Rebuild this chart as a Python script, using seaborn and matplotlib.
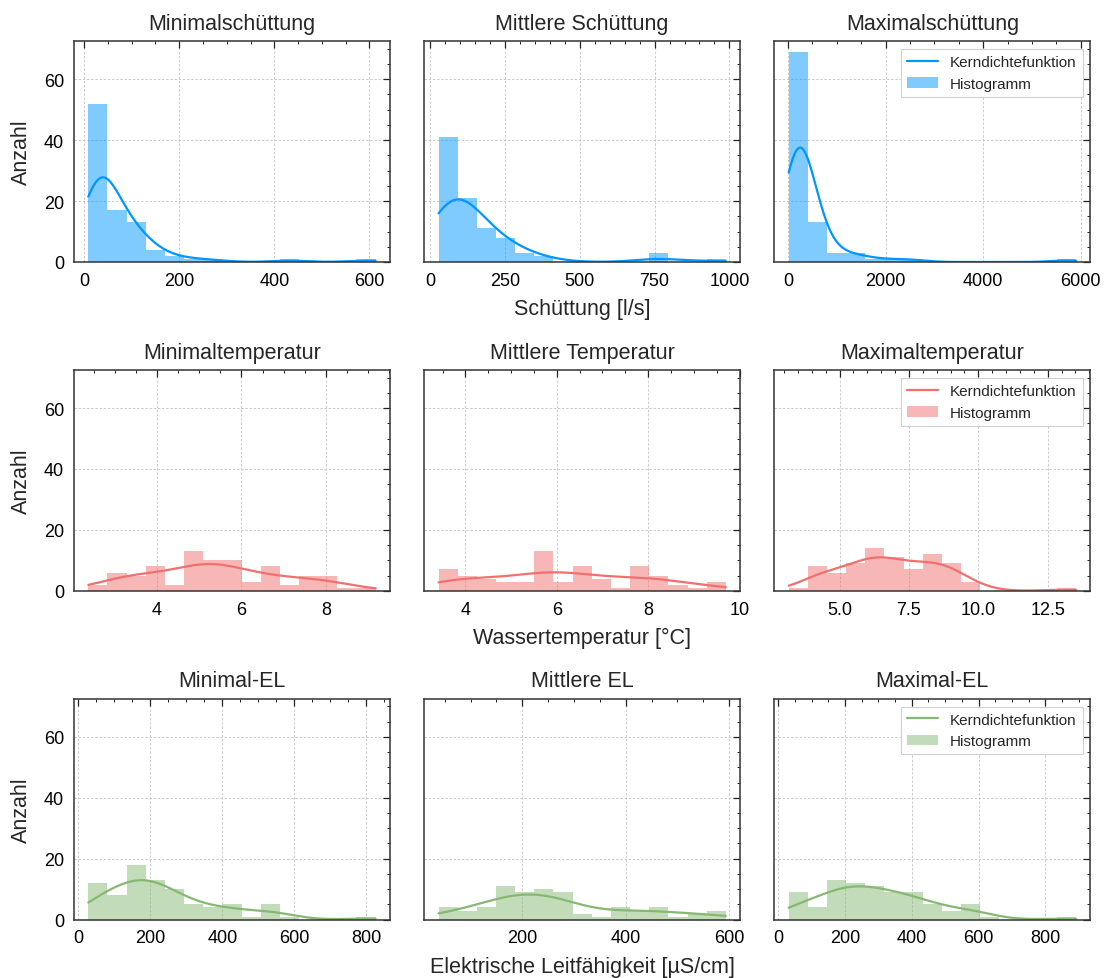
import numpy as np
import pandas as pd
import matplotlib
matplotlib.use("Agg")
import matplotlib.pyplot as plt
from matplotlib.ticker import AutoMinorLocator
from matplotlib.lines import Line2D
from matplotlib.patches import Patch
import seaborn as sns

sns.set_style("white")
plt.rcParams["font.family"] = ["Liberation Sans", "DejaVu Sans"]

# ---------------- data ----------------
titles = [
    ["Minimalschüttung", "Mittlere Schüttung", "Maximalschüttung"],
    ["Minimaltemperatur", "Mittlere Temperatur", "Maximaltemperatur"],
    ["Minimal-EL", "Mittlere EL", "Maximal-EL"],
]
xlabels = ["Schüttung [l/s]", "Wassertemperatur [°C]", "Elektrische Leitfähigkeit [µS/cm]"]
row_colors = ["#0096ff", "#f07070", "#86b874"]
ylabel = "Anzahl"
legend_labels = ["Kerndichtefunktion", "Histogramm"]

# data range (min, max) of each variable and histogram counts (15 bins)
q_min_range = (9.1, 613.0)
q_min_counts = [52, 17, 13, 4, 2, 1, 1, 0, 0, 0, 1, 0, 0, 0, 1]
q_mean_range = (28.0, 988.0)
q_mean_counts = [41, 21, 11, 8, 3, 2, 0, 0, 0, 0, 0, 3, 0, 0, 1]
q_max_range = (13.6, 5904.0)
q_max_counts = [69, 13, 3, 3, 1, 1, 1, 0, 0, 0, 0, 0, 0, 0, 1]

t_min_range = (2.37, 9.18)
t_min_counts = [2, 6, 5, 8, 2, 13, 10, 10, 3, 8, 2, 5, 5, 1, 1]
t_mean_range = (3.41, 9.70)
t_mean_counts = [7, 5, 4, 3, 3, 13, 3, 8, 4, 1, 8, 5, 2, 1, 3]
t_max_range = (3.17, 13.52)
t_max_counts = [1, 8, 6, 9, 14, 11, 7, 12, 9, 3, 0, 0, 0, 0, 1]

el_min_range = (27.3, 826.0)
el_min_counts = [12, 8, 18, 13, 10, 5, 4, 5, 1, 5, 1, 0, 0, 0, 1]
el_mean_range = (38.0, 593.5)
el_mean_counts = [4, 3, 4, 11, 9, 10, 9, 2, 1, 4, 3, 4, 1, 2, 3]
el_max_range = (31.3, 892.0)
el_max_counts = [9, 4, 13, 12, 11, 9, 9, 5, 3, 5, 1, 0, 0, 0, 1]

ranges = [[q_min_range, q_mean_range, q_max_range],
          [t_min_range, t_mean_range, t_max_range],
          [el_min_range, el_mean_range, el_max_range]]
counts = [[q_min_counts, q_mean_counts, q_max_counts],
          [t_min_counts, t_mean_counts, t_max_counts],
          [el_min_counts, el_mean_counts, el_max_counts]]

# KDE smoothing fine-tuning (style) per panel
kde_bw_scale = [[0.88, 1.0, 0.72],
                [1.0, 1.0, 1.0],
                [0.95, 1.0, 1.0]]

# ---------------- figure ----------------
fig, axes = plt.subplots(3, 3, figsize=(11.07, 9.79), dpi=100, sharey=True)
fig.subplots_adjust(left=0.0668, right=0.985, bottom=0.0596, top=0.9568,
                    wspace=0.108, hspace=0.49)

for r in range(3):
    color = row_colors[r]
    for c in range(3):
        ax = axes[r, c]
        lo, hi = ranges[r][c]
        w = np.asarray(counts[r][c], dtype=float)
        nb = len(w)
        edges = np.linspace(lo, hi, nb + 1)
        df = pd.DataFrame({"x": 0.5 * (edges[:-1] + edges[1:]), "w": w})
        # weighted KDE uses the effective sample size; rescale the bandwidth
        # so it corresponds to the true number of observations
        n_eff = w.sum() ** 2 / (w ** 2).sum()
        bw_adj = (n_eff / w.sum()) ** 0.2 * kde_bw_scale[r][c]
        sns.histplot(data=df, x="x", weights="w", bins=nb, binrange=(lo, hi),
                     kde=True, kde_kws=dict(cut=10, clip=(lo, hi), bw_adjust=bw_adj),
                     color=color, alpha=0.5, edgecolor="none", linewidth=0,
                     line_kws=dict(linewidth=1.6), ax=ax)
        ax.set_title(titles[r][c], fontsize=15.5, pad=9)
        ax.set_xlabel(xlabels[r] if c == 1 else "", fontsize=15.5, labelpad=7)
        ax.set_ylabel(ylabel if c == 0 else "", fontsize=15.5, labelpad=9)
        ax.set_axisbelow(True)
        ax.grid(True, which="major", linestyle=(0, (3, 2)), color="#c4c4c4", linewidth=0.6)
        ax.xaxis.set_minor_locator(AutoMinorLocator())
        ax.yaxis.set_minor_locator(AutoMinorLocator())
        ax.tick_params(which="both", direction="in", top=True, right=True,
                       colors="#222222", labelcolor="black")
        ax.tick_params(which="major", length=5, width=0.9, labelsize=13, pad=7)
        ax.tick_params(which="minor", length=2.5, width=0.7)
        for s in ax.spines.values():
            s.set_color("#333333")
            s.set_linewidth(1.1)
        if c == 2:
            handles = [Line2D([0], [0], color=color, linewidth=1.6),
                       Patch(facecolor=color, alpha=0.5, edgecolor="none")]
            leg = ax.legend(handles, legend_labels, loc="upper right", fontsize=11,
                            fancybox=False, framealpha=1, edgecolor="#d0d0d0")
            leg.get_frame().set_linewidth(0.8)

axes[0, 0].set_ylim(0, 72.45)
axes[0, 0].set_yticks([0, 20, 40, 60])

fig.savefig("out.png", dpi=100)
